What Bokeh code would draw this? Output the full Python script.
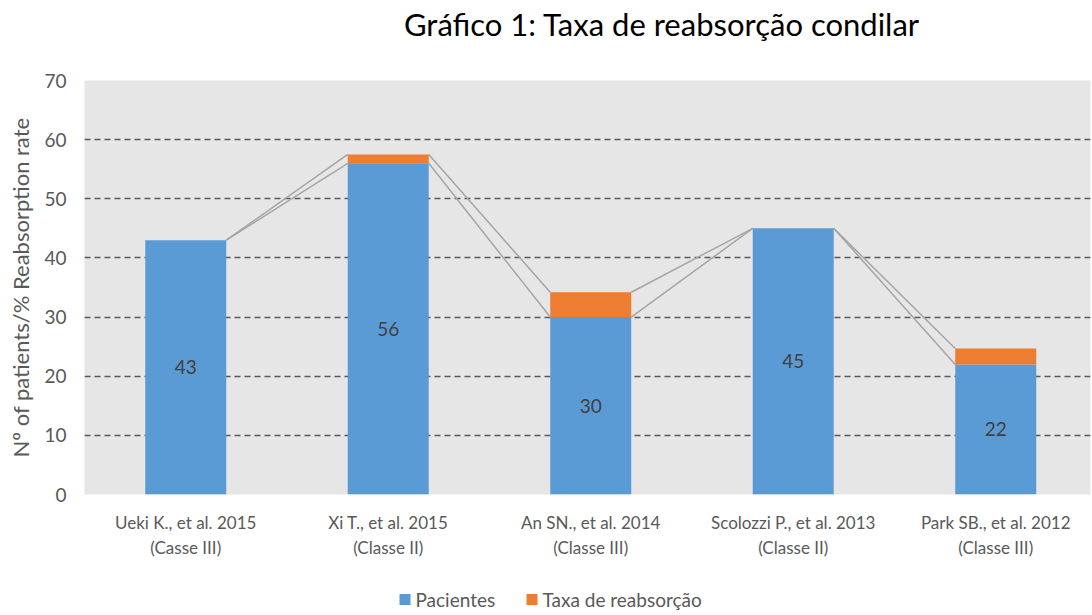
from bokeh.plotting import figure
from bokeh.layouts import column
from bokeh.models import Range1d, FixedTicker, ColumnDataSource
from bokeh.core.properties import value
from bokeh.embed import file_html
from bokeh.resources import INLINE

title_text = "Gráfico 1: Taxa de reabsorção condilar"
categories = ["Ueki K., et al. 2015\n(Casse III)", "Xi T., et al. 2015\n(Classe II)",
              "An SN., et al. 2014\n(Classe III)", "Scolozzi P., et al. 2013\n(Classe II)",
              "Park SB., et al. 2012\n(Classe III)"]
series_names = ["Pacientes", "Taxa de reabsorção"]
pacientes = [43, 56, 30, 45, 22]
taxa = [0, 1.5, 4.2, 0, 2.7]
yticks = [0, 10, 20, 30, 40, 50, 60, 70]

FONT = "Lato"
BLUE = "#5B9BD5"
ORANGE = "#ED7D31"
TXT = "#595959"
W = 1092
LEFT = 84
RIGHT = 2


def bare(height):
    # strip whose frame is aligned with the main chart's frame; x in page pixels
    f = figure(width=W, height=height, output_backend="svg", toolbar_location=None, title=None,
               x_range=Range1d(LEFT, W - RIGHT), y_range=Range1d(0, height),
               x_axis_type=None, y_axis_type=None,
               min_border_left=LEFT, min_border_right=RIGHT, min_border_top=0, min_border_bottom=0)
    f.grid.visible = False
    f.outline_line_color = None
    f.background_fill_color = "white"
    f.border_fill_color = "white"
    return f


# ---- title strip ----
TH = 68
tfig = bare(TH)
tfig.text(x=[661.5], y=[TH - 23], text=[title_text], text_align="center", text_baseline="middle",
          text_font=value(FONT), text_font_size="31px", text_color="#000000")

# ---- main chart ----
xs = list(range(len(categories)))
tops = [a + b for a, b in zip(pacientes, taxa)]

# the last category is slightly cut at the right edge, as in the reference
p = figure(width=W, height=507, output_backend="svg", toolbar_location=None, title=None,
           x_range=Range1d(-0.5, len(categories) - 0.532), y_range=Range1d(0, 70),
           min_border_left=LEFT, min_border_right=RIGHT, min_border_top=12, min_border_bottom=81)
p.background_fill_color = "#E7E6E6"
p.border_fill_color = "white"
p.outline_line_color = None

src = ColumnDataSource(dict(x=xs, pac=pacientes, taxa=taxa, top=tops,
                            mid=[v / 2 for v in pacientes], lab=[str(v) for v in pacientes]))

for series in (pacientes, tops):
    x0 = [i + 0.2 for i in xs[:-1]]
    x1 = [i + 0.8 for i in xs[:-1]]
    p.segment(x0=x0, y0=series[:-1], x1=x1, y1=series[1:], line_color="#A5A5A5", line_width=1.5)

p.vbar(x="x", top="pac", bottom=0, width=0.4, source=src, fill_color=BLUE, line_color=None)
p.vbar(x="x", top="top", bottom="pac", width=0.4, source=src, fill_color=ORANGE, line_color=None)

p.text(x="x", y="mid", text="lab", source=src, text_align="center", text_baseline="middle",
       text_font=value(FONT), text_font_size="19px", text_color="#404040")

p.ygrid.ticker = FixedTicker(ticks=yticks[1:])
p.ygrid.grid_line_color = "#595959"
p.ygrid.grid_line_dash = "6 4"
p.ygrid.grid_line_width = 1.3
p.xgrid.grid_line_color = None

p.yaxis.ticker = FixedTicker(ticks=yticks)
p.yaxis.axis_line_color = None
p.yaxis.major_tick_line_color = None
p.yaxis.minor_tick_line_color = None
p.yaxis.major_label_text_font = FONT
p.yaxis.major_label_text_font_size = "19px"
p.yaxis.major_label_text_color = TXT
p.yaxis.major_label_standoff = 12
p.yaxis.axis_label = "Nº of patients/% Reabsorption rate"
p.yaxis.axis_label_text_font = FONT
p.yaxis.axis_label_text_font_size = "22px"
p.yaxis.axis_label_text_font_style = "normal"
p.yaxis.axis_label_text_color = TXT
p.yaxis.axis_label_standoff = 7

p.xaxis.ticker = FixedTicker(ticks=xs)
p.xaxis.major_label_overrides = {i: c for i, c in zip(xs, categories)}
p.xaxis.axis_line_color = None
p.xaxis.major_tick_line_color = None
p.xaxis.minor_tick_line_color = None
p.xaxis.major_label_text_font = FONT
p.xaxis.major_label_text_font_size = "17px"
p.xaxis.major_label_text_color = TXT
p.xaxis.major_label_standoff = 11

# ---- legend strip ----
LH = 40
leg = bare(LH)
leg_src = ColumnDataSource(dict(sx=[404.5, 531.5], tx=[415, 542], y=[LH - 24] * 2,
                                name=series_names, color=[BLUE, ORANGE]))
leg.rect(x="sx", y="y", width=11, height=11, source=leg_src, fill_color="color", line_color=None)
leg.text(x="tx", y="y", text="name", source=leg_src, text_align="left", text_baseline="middle",
         text_font=value(FONT), text_font_size="19px", text_color=TXT)

layout = column(tfig, p, leg, spacing=0)
open("out.html", "w").write(file_html(layout, INLINE))
